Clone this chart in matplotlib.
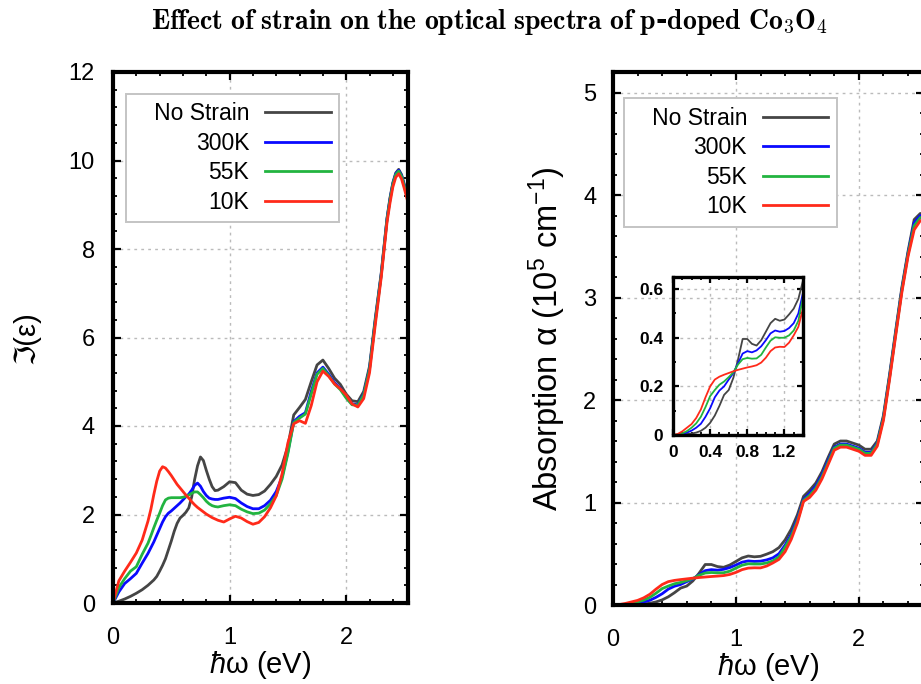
import matplotlib
matplotlib.use("Agg")
import matplotlib.pyplot as plt
from matplotlib.ticker import MultipleLocator, FixedLocator, FuncFormatter

plt.rcParams['font.family'] = ['Liberation Sans', 'DejaVu Sans']
plt.rcParams['mathtext.fontset'] = 'custom'
plt.rcParams['mathtext.rm'] = 'Liberation Sans'
plt.rcParams['mathtext.it'] = 'Liberation Sans:italic'

labels = ["No Strain", "300K", "55K", "10K"]
colors = ["#454545", "#0a0aff", "#22b440", "#ff2a1a"]

# photon energy (eV) for the dielectric function panel
energy_eps = [0.0, 0.05, 0.1, 0.15, 0.2, 0.25, 0.3,
              0.325, 0.35, 0.375, 0.4, 0.425, 0.45, 0.475, 0.5, 0.525, 0.55, 0.575,
              0.6, 0.625, 0.65, 0.675, 0.7, 0.725, 0.75, 0.775, 0.8, 0.825, 0.85,
              0.875, 0.9,
              0.95, 1.0, 1.05, 1.1, 1.15, 1.2, 1.25, 1.3, 1.35, 1.4, 1.45, 1.5, 1.55,
              1.6, 1.65, 1.7, 1.75, 1.8, 1.85, 1.9, 1.95, 2.0, 2.05, 2.1, 2.15, 2.2,
              2.25, 2.3, 2.35,
              2.375, 2.4, 2.425, 2.45, 2.475, 2.5, 2.53]

# imaginary part of dielectric function
eps_nostrain = [0, 0.04, 0.09, 0.15, 0.22, 0.3, 0.4,
                0.46, 0.52, 0.6, 0.72, 0.85, 1.0, 1.2, 1.4, 1.62, 1.8, 1.92,
                1.98, 2.05, 2.15, 2.4, 2.79, 3.1, 3.3, 3.22, 3.0, 2.8, 2.63,
                2.54, 2.55,
                2.63, 2.74, 2.72, 2.55, 2.46, 2.43, 2.45, 2.53, 2.68, 2.86, 3.12, 3.55, 4.25,
                4.42, 4.6, 5.0, 5.38, 5.49, 5.3, 5.08, 4.94, 4.72, 4.57, 4.55, 4.78, 5.35,
                6.45, 7.45, 8.7,
                9.15, 9.5, 9.72, 9.8, 9.68, 9.45, 9.15]
eps_300k = [0, 0.25, 0.44, 0.55, 0.67, 0.9, 1.12,
            1.25, 1.38, 1.53, 1.68, 1.83, 1.95, 2.03, 2.08, 2.14, 2.2, 2.26,
            2.33, 2.4, 2.46, 2.55, 2.66, 2.71, 2.64, 2.52, 2.43, 2.37, 2.35,
            2.34, 2.34,
            2.37, 2.39, 2.36, 2.26, 2.18, 2.13, 2.13, 2.2, 2.32, 2.52, 2.85, 3.42, 4.1,
            4.22, 4.3, 4.78, 5.2, 5.33, 5.17, 4.98, 4.85, 4.65, 4.5, 4.48, 4.72, 5.3,
            6.4, 7.42, 8.68,
            9.12, 9.48, 9.7, 9.78, 9.66, 9.42, 9.12]
eps_55k = [0, 0.35, 0.55, 0.72, 0.82, 1.1, 1.35,
           1.52, 1.7, 1.87, 2.03, 2.2, 2.33, 2.37, 2.38, 2.38, 2.38, 2.38,
           2.39, 2.41, 2.44, 2.48, 2.51, 2.51, 2.45, 2.38, 2.3, 2.24, 2.2,
           2.18, 2.17,
           2.2, 2.22, 2.2, 2.12, 2.06, 2.02, 2.03, 2.1, 2.24, 2.43, 2.8, 3.38, 4.08,
           4.18, 4.27, 4.72, 5.17, 5.3, 5.14, 4.95, 4.82, 4.63, 4.48, 4.47, 4.7, 5.28,
           6.38, 7.4, 8.66,
           9.1, 9.46, 9.68, 9.76, 9.64, 9.4, 9.1]
eps_10k = [0, 0.5, 0.72, 0.92, 1.13, 1.42, 1.85,
           2.12, 2.45, 2.75, 2.98, 3.08, 3.05, 2.97, 2.88, 2.78, 2.68, 2.6,
           2.52, 2.44, 2.37, 2.29, 2.22, 2.16, 2.11, 2.06, 2.01, 1.97, 1.93,
           1.9, 1.87,
           1.83, 1.9, 1.96, 1.92, 1.84, 1.78, 1.82, 1.95, 2.15, 2.42, 2.92, 3.62, 4.05,
           4.12, 4.06, 4.46, 5.0, 5.24, 5.12, 4.95, 4.84, 4.7, 4.5, 4.43, 4.62, 5.2,
           6.3, 7.35, 8.6,
           9.03, 9.4, 9.62, 9.7, 9.58, 9.35, 9.05]

# photon energy (eV) for the absorption panel
energy_abs = [0.0, 0.05, 0.1, 0.15, 0.2, 0.25, 0.3, 0.35, 0.4, 0.45, 0.5, 0.55, 0.6,
              0.65, 0.7, 0.75, 0.8, 0.85, 0.9, 0.95, 1.0, 1.05, 1.1, 1.15, 1.2, 1.25,
              1.3, 1.35, 1.4, 1.45, 1.5, 1.55, 1.6, 1.65, 1.7, 1.75, 1.8, 1.85, 1.9,
              1.95, 2.0, 2.05, 2.1, 2.15, 2.2, 2.25, 2.3, 2.35, 2.4, 2.45, 2.5, 2.53]

# absorption coefficient (1e5 cm^-1)
abs_nostrain = [0, 0.0, 0.002, 0.004, 0.006, 0.01, 0.017, 0.03, 0.05, 0.08, 0.12, 0.165,
                0.185, 0.235, 0.31, 0.395, 0.395, 0.375, 0.368, 0.39, 0.425, 0.46, 0.478,
                0.47, 0.475, 0.496, 0.52, 0.56, 0.635, 0.74, 0.88, 1.06, 1.12, 1.19, 1.3,
                1.44, 1.57, 1.6, 1.6, 1.58, 1.56, 1.52, 1.52, 1.6, 1.85, 2.25, 2.68, 3.1,
                3.45, 3.76, 3.82, 3.8]
abs_300k = [0, 0.001, 0.004, 0.01, 0.018, 0.03, 0.046, 0.075, 0.11, 0.155, 0.183, 0.2,
            0.228, 0.255, 0.295, 0.335, 0.345, 0.34, 0.348, 0.365, 0.39, 0.418, 0.43,
            0.425, 0.428, 0.44, 0.46, 0.5, 0.585, 0.69, 0.84, 1.03, 1.09, 1.16, 1.27,
            1.41, 1.54, 1.57, 1.57, 1.55, 1.53, 1.49, 1.49, 1.58, 1.83, 2.23, 2.66, 3.08,
            3.43, 3.73, 3.8, 3.78]
abs_55k = [0, 0.002, 0.007, 0.016, 0.03, 0.048, 0.075, 0.115, 0.16, 0.185, 0.207, 0.22,
           0.238, 0.258, 0.29, 0.312, 0.317, 0.314, 0.315, 0.33, 0.36, 0.388, 0.402,
           0.4, 0.4, 0.41, 0.43, 0.47, 0.565, 0.67, 0.82, 1.02, 1.07, 1.14, 1.25, 1.39,
           1.53, 1.56, 1.56, 1.54, 1.52, 1.48, 1.48, 1.57, 1.82, 2.22, 2.65, 3.07, 3.42,
           3.7, 3.78, 3.76]
abs_10k = [0, 0.004, 0.015, 0.03, 0.045, 0.07, 0.105, 0.155, 0.2, 0.228, 0.24, 0.248,
           0.255, 0.262, 0.268, 0.273, 0.278, 0.282, 0.287, 0.298, 0.318, 0.345, 0.36,
           0.363, 0.362, 0.38, 0.41, 0.445, 0.52, 0.64, 0.8, 1.01, 1.05, 1.12, 1.23,
           1.37, 1.51, 1.54, 1.54, 1.52, 1.5, 1.46, 1.46, 1.55, 1.8, 2.2, 2.63, 3.05,
           3.4, 3.66, 3.75, 3.74]

eps_series = [eps_nostrain, eps_300k, eps_55k, eps_10k]
abs_series = [abs_nostrain, abs_300k, abs_55k, abs_10k]

W, H = 921, 684
fig = plt.figure(figsize=(W / 100, H / 100), dpi=100)


def px_axes(x0, y0, x1, y1):
    return fig.add_axes([x0 / W, 1 - y1 / H, (x1 - x0) / W, (y1 - y0) / H])


def style(ax, lw=3.0, size=17, xpad=17, ypad=13, major=5.5, minor=3.0):
    for s in ax.spines.values():
        s.set_linewidth(lw)
    ax.tick_params(which='both', direction='in', top=True, right=True, labelsize=size)
    ax.tick_params(axis='x', which='major', pad=xpad)
    ax.tick_params(axis='y', which='major', pad=ypad)
    ax.tick_params(which='major', length=major, width=1.6)
    ax.tick_params(which='minor', length=minor, width=1.3)
    ax.grid(True, which='major', color='#bbbbbb', linestyle=(0, (2, 3)), linewidth=1.0)
    ax.set_axisbelow(True)


def add_legend(ax, anchor):
    # leading spaces widen the box on the left, gnuplot style
    shown = ["   " + labels[0]] + labels[1:]
    leg = ax.legend(ax.get_lines(), shown, loc='upper left', bbox_to_anchor=anchor,
                    borderaxespad=0, markerfirst=False, fancybox=False, framealpha=1,
                    edgecolor='#c4c4c4', fontsize=16.5, handlelength=2.85,
                    handletextpad=0.7, labelspacing=0.28, borderpad=0.38)
    leg.get_frame().set_linewidth(1.4)


# left panel
ax1 = px_axes(113, 72, 408, 603)
for y, lab, c in zip(eps_series, labels, colors):
    ax1.plot(energy_eps, y, color=c, lw=2.0, label=lab)
ax1.set_xlim(0, 2.53)
ax1.set_ylim(0, 12)
ax1.xaxis.set_major_locator(MultipleLocator(1))
ax1.xaxis.set_minor_locator(MultipleLocator(0.2))
ax1.yaxis.set_major_locator(MultipleLocator(2))
ax1.yaxis.set_minor_locator(MultipleLocator(0.4))
style(ax1)
ax1.set_xlabel(r'$\hbar$ω (eV)', fontsize=21, labelpad=0)
ax1.set_ylabel('ℑ(ε)', fontsize=21, labelpad=20)
add_legend(ax1, (0.044, 0.959))

# right panel
ax2 = px_axes(613, 72, 924, 605)
for y, lab, c in zip(abs_series, labels, colors):
    ax2.plot(energy_abs, y, color=c, lw=2.0, label=lab)
ax2.set_xlim(0, 2.53)
ax2.set_ylim(0, 5.2)
ax2.xaxis.set_major_locator(MultipleLocator(1))
ax2.xaxis.set_minor_locator(MultipleLocator(0.2))
ax2.yaxis.set_major_locator(MultipleLocator(1))
ax2.yaxis.set_minor_locator(MultipleLocator(0.2))
style(ax2, ypad=12)
ax2.set_xlabel(r'$\hbar$ω (eV)', fontsize=21, labelpad=0)
ax2.set_ylabel('Absorption α (10$^5$ cm$^{-1}$)', fontsize=23.5, labelpad=11)
add_legend(ax2, (0.035, 0.951))

# inset
ax3 = px_axes(673, 277, 803, 435)
ax3.set_facecolor('none')
for y, c in zip(abs_series, colors):
    ax3.plot(energy_abs, y, color=c, lw=1.3)
ax3.set_xlim(0, 1.4)
ax3.set_ylim(0, 0.65)
ax3.xaxis.set_major_locator(FixedLocator([0, 0.4, 0.8, 1.2]))
ax3.xaxis.set_minor_locator(MultipleLocator(0.1))
ax3.yaxis.set_major_locator(FixedLocator([0, 0.2, 0.4, 0.6]))
ax3.yaxis.set_minor_locator(MultipleLocator(0.1))
fmt = FuncFormatter(lambda v, p: '0' if abs(v) < 1e-9 else '%.1f' % v)
ax3.xaxis.set_major_formatter(fmt)
ax3.yaxis.set_major_formatter(fmt)
style(ax3, lw=2.4, size=12.5, xpad=7, ypad=7, major=4, minor=2)
for t in ax3.get_xticklabels() + ax3.get_yticklabels():
    t.set_fontweight('bold')

fig.text(490 / W, 1 - 22 / H,
         r'$\mathbf{Effect\ of\ strain\ on\ the\ optical\ spectra\ of\ p}$-$\mathbf{doped\ Co_3O_4}$',
         math_fontfamily='cm', family='DejaVu Serif', fontweight='bold',
         fontsize=20, ha='center', va='center')

fig.savefig('out.png', dpi=100)
